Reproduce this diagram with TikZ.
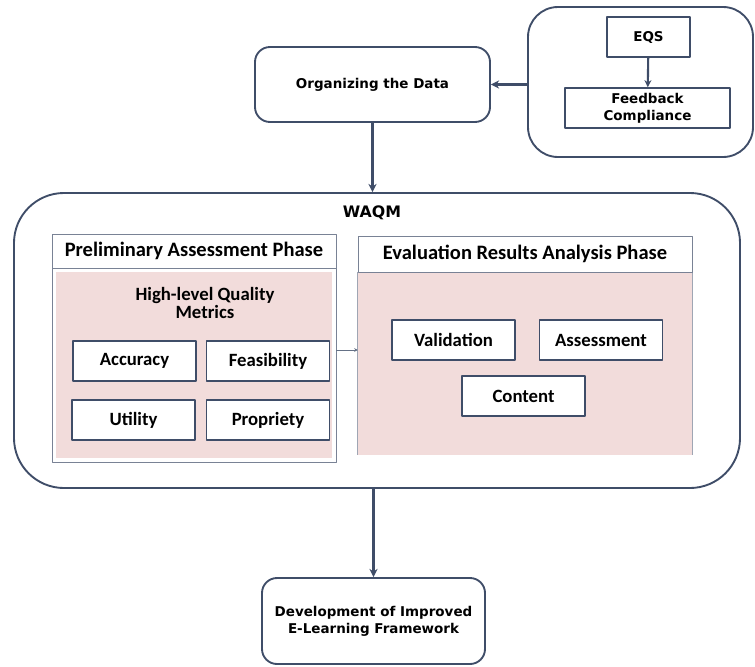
\documentclass[tikz,border=0pt]{standalone}
\usepackage{fontspec}
\setmainfont{DejaVu Sans}
\newfontfamily\calib{Carlito}
\usetikzlibrary{arrows.meta}
\definecolor{slate}{HTML}{3F4D68}
\definecolor{rosa}{HTML}{F2DCDB}
\begin{document}
\begin{tikzpicture}[x=0.03cm, y=-0.03cm, line join=round, >={Stealth[length=7pt,width=7pt]},
	rbox/.style={draw=slate, line width=1.6pt, rounded corners=0.45cm, fill=white, align=center, font=\bfseries\fontsize{11.5}{14.5}\selectfont},
	sbox/.style={draw=slate, line width=1.4pt, fill=white, align=center, font=\bfseries\fontsize{11.5}{14.5}\selectfont},
	mbox/.style={draw=slate, line width=1.6pt, fill=white, minimum width=3.69cm, minimum height=1.2cm, font=\calib\bfseries\fontsize{16}{18}\selectfont},
	hbox/.style={draw=slate!70, line width=0.8pt, fill=white, font=\calib\bfseries\fontsize{17.5}{20}\selectfont},
	conn/.style={->, draw=slate, line width=2.2pt}]
	%Khung ảnh.
	\useasboundingbox (0,0) rectangle (755,666);
	%Các khối trên.
	\node[rbox, minimum width=7.05cm, minimum height=2.25cm] (org) at (372.5,84.5) {Organizing the Data};
	\node[rbox, rounded corners=0.9cm, minimum width=6.75cm, minimum height=4.5cm] (src) at (640.5,82) {};
	\node[sbox, minimum width=2.49cm, minimum height=1.2cm] (eqs) at (648.5,37) {EQS};
	\node[sbox, minimum width=4.95cm, minimum height=1.2cm] (fbc) at (647.5,108) {Feedback\\Compliance};
	%Khối WAQM.
	\node[rbox, rounded corners=1.5cm, minimum width=21.78cm, minimum height=8.85cm] (waqm) at (377,340.5) {};
	\node[font=\bfseries\fontsize{13.5}{16}\selectfont] (wtitle) at (372,213) {WAQM};
	%Pha đánh giá sơ bộ.
	\node[hbox, minimum width=8.52cm, minimum height=5.82cm] (prelim) at (194,365) {};
	\fill[rosa] (56,272) rectangle (332,458);
	\node[hbox, minimum width=8.52cm, minimum height=1.02cm] (prehead) at (194,251) {Preliminary Assessment Phase};
	\node[align=center, font=\calib\bfseries\fontsize{16}{16}\selectfont] (hlq) at (205,303) {High-level Quality\\Metrics};
	\node[mbox] (acc) at (134.5,361) {Accuracy};
	\node[mbox] (fea) at (268,361) {Feasibility};
	\node[mbox] (uti) at (133.5,420) {Utility};
	\node[mbox] (pro) at (268,420) {Propriety};
	%Pha phân tích kết quả.
	\node[minimum width=10.02cm, minimum height=5.49cm, inner sep=0pt] (evalp) at (525,363.5) {};
	\fill[rosa] (evalp.north west) rectangle (evalp.south east);
	\draw[slate!50, line width=0.6pt] (evalp.north west) -- (evalp.south west) (evalp.north east) -- (evalp.south east);
	\node[hbox, minimum width=10.02cm, minimum height=1.08cm] (evhead) at (525,254) {Evaluation Results Analysis Phase};
	\node[mbox] (val) at (453.5,340) {Validation};
	\node[mbox] (ass) at (601,340) {Assessment};
	\node[mbox] (con) at (523.5,396) {Content};
	%Khối cuối.
	\node[rbox, minimum width=6.69cm, minimum height=2.58cm] (dev) at (373.5,621) {Development of Improved\\E-Learning Framework};
	%Mũi tên.
	\draw[->, draw=slate, line width=1.8pt, >={Stealth[length=6pt,width=6pt]}] (eqs) -- (fbc);
	\draw[conn] (src.west |- org.east) -- (org.east);
	\draw[conn] (org.south) -- (org.south |- waqm.north);
	\draw[->, draw=slate!80, line width=0.7pt, >={Stealth[length=3pt,width=3pt]}] (prelim.east |- 0,350) -- (evalp.west |- 0,350);
	\draw[conn] (waqm.south -| dev.north) -- (dev.north);
\end{tikzpicture}
\end{document}
